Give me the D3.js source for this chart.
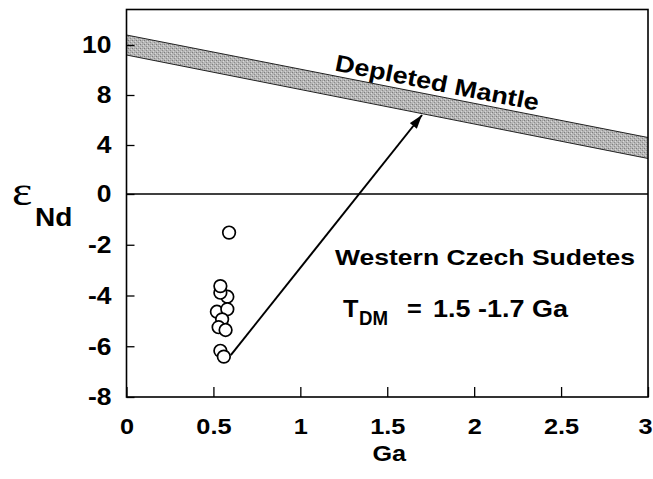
<!DOCTYPE html>
<html>
<head>
<meta charset="utf-8">
<script src="https://cdn.jsdelivr.net/npm/d3@7"></script>
<style>
  body { margin: 0; background: #fff; }
  svg { display: block; }
  text { font-family: "Liberation Sans", Arial, sans-serif; font-weight: bold; fill: #000; }
</style>
</head>
<body>
<svg id="chart" width="653" height="479"></svg>
<script>
// Axis ticks and labels
const xTicks = [0, 0.5, 1, 1.5, 2, 2.5, 3];
const xTickLabels = ["0", "0.5", "1", "1.5", "2", "2.5", "3"];
const yTicks = [-8, -6, -4, -2, 0, 4, 8, 10];
const yTickLabels = ["-8", "-6", "-4", "-2", "0", "4", "8", "10"];

// Samples: age (Ga) and epsilon Nd
const sampleAge = [0.59, 0.58, 0.54, 0.54, 0.52, 0.58, 0.55, 0.53, 0.57, 0.54, 0.56];
const sampleEps = [-1.52, -4.05, -3.89, -3.63, -4.64, -4.54, -4.94, -5.25, -5.36, -6.18, -6.41];

// Depleted mantle evolution band
const mantleAge = [0, 3];
const mantleUpper = [10.4, 4.6];
const mantleLower = [9.6, 2.9];

// Model-age arrow (start, tip)
const arrowAge = [0.6, 1.7];
const arrowEps = [-6.35, 6.4];

const svg = d3.select("#chart");
const plotL = 126.5, plotR = 648, plotT = 9.5, plotB = 397;

const x = d3.scaleLinear().domain([0, 3]).range([plotL, plotR]);
// printed ticks are evenly spaced above zero, so the scale is piecewise
const y = d3.scaleLinear()
  .domain([-8, 0, 4, 8, 10, 11.42])
  .range([plotB, 194, 145, 95, 45, plotT]);

// widen glyphs a little (the lettering is set slightly extended)
function stretch(sel, factor) {
  sel.each(function () {
    const w = this.getComputedTextLength();
    d3.select(this).attr("textLength", w * factor).attr("lengthAdjust", "spacingAndGlyphs");
  });
}

// Depleted mantle band
const bandPts = mantleAge.map((a, i) => [x(a), y(mantleUpper[i])])
  .concat(mantleAge.map((a, i) => [x(a), y(mantleLower[i])]).reverse());

const defs = svg.append("defs");
const pat = defs.append("pattern").attr("id", "grain")
  .attr("width", 4).attr("height", 4).attr("patternUnits", "userSpaceOnUse");
pat.append("rect").attr("width", 4).attr("height", 4).attr("fill", "#b6b6b6");
[[0, 0, "#7c7c7c"], [2, 2, "#8c8c8c"], [3, 1, "#dadada"], [1, 3, "#d4d4d4"], [2, 0, "#a0a0a0"]]
  .forEach(([px, py, c]) => pat.append("rect").attr("x", px).attr("y", py)
    .attr("width", 1).attr("height", 1).attr("fill", c));

svg.append("polygon")
  .attr("points", bandPts.map(p => p.join(",")).join(" "))
  .attr("fill", "url(#grain)");
[mantleUpper, mantleLower].forEach(edge => {
  svg.append("line")
    .attr("x1", x(mantleAge[0])).attr("y1", y(edge[0]))
    .attr("x2", x(mantleAge[1])).attr("y2", y(edge[1]))
    .attr("stroke", "#222").attr("stroke-width", 1);
});

// Zero line
svg.append("line")
  .attr("x1", plotL).attr("x2", plotR)
  .attr("y1", y(0)).attr("y2", y(0))
  .attr("stroke", "#000").attr("stroke-width", 1.5);

// Arrow
defs.append("marker").attr("id", "head")
  .attr("viewBox", "0 0 14 9").attr("refX", 14).attr("refY", 4.5)
  .attr("markerWidth", 14).attr("markerHeight", 9)
  .attr("markerUnits", "userSpaceOnUse").attr("orient", "auto")
  .append("path").attr("d", "M0,0 L14,4.5 L0,9 Z").attr("fill", "#000");
svg.append("line")
  .attr("x1", x(arrowAge[0])).attr("y1", y(arrowEps[0]))
  .attr("x2", x(arrowAge[1])).attr("y2", y(arrowEps[1]))
  .attr("stroke", "#000").attr("stroke-width", 2)
  .attr("marker-end", "url(#head)");

// Samples
svg.append("g").selectAll("circle")
  .data(sampleAge.map((a, i) => [a, sampleEps[i]]))
  .join("circle")
  .attr("cx", d => x(d[0])).attr("cy", d => y(d[1]))
  .attr("r", 6.3)
  .attr("fill", "#fff").attr("stroke", "#000").attr("stroke-width", 1.7);

// Frame
svg.append("rect")
  .attr("x", plotL).attr("y", plotT)
  .attr("width", plotR - plotL).attr("height", plotB - plotT)
  .attr("fill", "none").attr("stroke", "#000").attr("stroke-width", 1.6);

// Axes with inward ticks
const xAxis = d3.axisBottom(x).tickValues(xTicks)
  .tickFormat((d, i) => xTickLabels[i]).tickSizeInner(-10).tickSizeOuter(0);
const gx = svg.append("g").attr("transform", `translate(0,${plotB})`).call(xAxis);
gx.select(".domain").remove();
gx.selectAll("line").attr("stroke", "#000").attr("stroke-width", 1.3);
gx.selectAll("text").attr("y", 29.5).attr("dy", "0.36em").style("font-size", "22px")
  .call(stretch, 1.15);
// last label sits flush with the right edge of the frame
gx.selectAll("text").filter((d, i, n) => i === n.length - 1)
  .attr("text-anchor", "end").attr("x", 4);

const yAxis = d3.axisLeft(y).tickValues(yTicks)
  .tickFormat((d, i) => yTickLabels[i]).tickSizeInner(-8).tickSizeOuter(0);
const gy = svg.append("g").attr("transform", `translate(${plotL},0)`).call(yAxis);
gy.select(".domain").remove();
gy.selectAll("line").attr("stroke", "#000").attr("stroke-width", 1.3);
gy.selectAll("text").attr("x", -15).attr("dy", "0.34em").style("font-size", "23px")
  .call(stretch, 1.15);

// Axis titles
svg.append("text").attr("x", (plotL + plotR) / 2 + 2).attr("y", 461)
  .attr("text-anchor", "middle").style("font-size", "22.5px").text("Ga")
  .call(stretch, 1.12);

svg.append("text").attr("x", 12).attr("y", 205)
  .style("font-family", "'Liberation Serif', 'DejaVu Serif', serif")
  .style("font-weight", "normal").style("font-size", "42px").text("ε")
  .call(stretch, 1.15);
svg.append("text").attr("x", 35).attr("y", 226)
  .style("font-size", "25px").text("Nd")
  .call(stretch, 1.12);

// Annotations
svg.append("text")
  .attr("transform", "translate(334,70.5) rotate(11.2)")
  .style("font-size", "23.5px").text("Depleted Mantle")
  .call(stretch, 1.15);

svg.append("text").attr("x", 335).attr("y", 265)
  .style("font-size", "22px").text("Western Czech Sudetes")
  .attr("textLength", 300).attr("lengthAdjust", "spacingAndGlyphs");

svg.append("text").attr("x", 343).attr("y", 317)
  .style("font-size", "23px").text("T").call(stretch, 1.1);
svg.append("text").attr("x", 359).attr("y", 325)
  .style("font-size", "20px").text("DM")
  .attr("textLength", 29).attr("lengthAdjust", "spacingAndGlyphs");
svg.append("text").attr("x", 407).attr("y", 317)
  .style("font-size", "23px").text("=").call(stretch, 1.1);
svg.append("text").attr("x", 433).attr("y", 317)
  .style("font-size", "23px").text("1.5 -1.7 Ga")
  .attr("textLength", 135).attr("lengthAdjust", "spacingAndGlyphs");
</script>
</body>
</html>
